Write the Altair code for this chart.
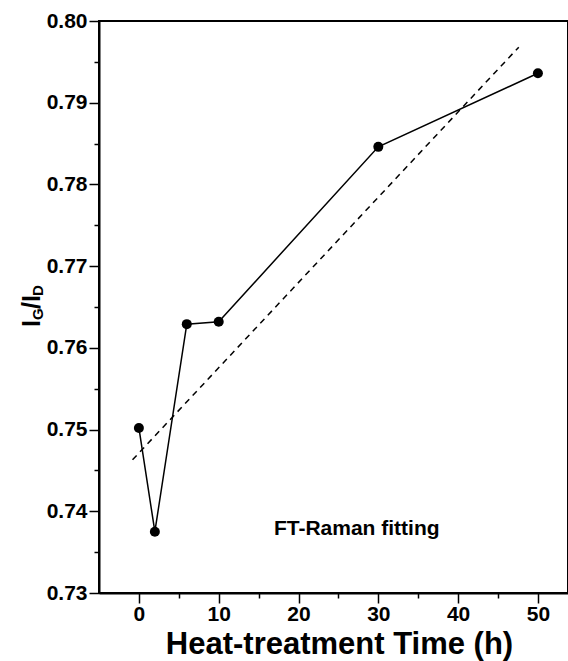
import altair as alt
import pandas as pd

# data
hours = [0, 2, 6, 10, 30, 50]
ratio = [0.7502, 0.7375, 0.7629, 0.7632, 0.7846, 0.7936]
fit_hours = [-0.8, 47.6]
fit_ratio = [0.7463, 0.7968]
x_major = [0, 10, 20, 30, 40, 50]
x_minor = [5, 15, 25, 35, 45]
y_major = [0.73, 0.74, 0.75, 0.76, 0.77, 0.78, 0.79, 0.80]
y_minor = [0.735, 0.745, 0.755, 0.765, 0.775, 0.785, 0.795]
note_text = "FT-Raman fitting"
note_x = [27.3]
note_y = [0.7371]

FONT = "Liberation Sans"
W, H = 469, 572
xdom = [-5, 53.77]
ydom = [0.73, 0.80]

pts = pd.DataFrame({"x": hours, "y": ratio})
fit = pd.DataFrame({"x": fit_hours, "y": fit_ratio})
note = pd.DataFrame({"x": note_x, "y": note_y, "t": [note_text]})
one = pd.DataFrame({"a": [0]})

xs = alt.Scale(domain=xdom, nice=False, zero=False)
ys = alt.Scale(domain=ydom, nice=False, zero=False)

x_tick_size = {"condition": {"test": "datum.value % 10 == 0", "value": 10}, "value": 5}
y_tick_size = {"condition": {"test": "round(datum.value*1000) % 10 == 0", "value": 10}, "value": 5}

lbl = dict(labelFont=FONT, labelFontWeight="bold", labelFontSize=21,
           labelColor="black", domainColor="black", domainWidth=2,
           grid=False, labelFlush=False, tickColor="black", tickWidth=1.5)

line = alt.Chart(pts).mark_line(color="black", strokeWidth=1.5).encode(
    x=alt.X("x:Q", scale=xs, axis=alt.Axis(
        orient="bottom", values=x_major + x_minor, tickSize=x_tick_size,
        labelExpr="datum.value % 10 == 0 ? datum.label : ''",
        labelPadding=0,
        title="Heat-treatment Time (h)", titleFont=FONT, titleFontWeight="bold",
        titleFontSize=31, titleColor="black", titleBaseline="alphabetic",
        titleY=60, titleX=240, titleAnchor="start", titleAlign="center",
        **lbl)),
    y=alt.Y("y:Q", scale=ys, axis=alt.Axis(
        orient="left", values=y_major + y_minor, tickSize=y_tick_size,
        format=".2f",
        labelExpr="round(datum.value*1000) % 10 == 0 ? datum.label : ''",
        labelPadding=2, title=None, **lbl)),
)

points = alt.Chart(pts).mark_circle(color="black", size=100, opacity=1).encode(
    x=alt.X("x:Q", scale=xs), y=alt.Y("y:Q", scale=ys))

fitline = alt.Chart(fit).mark_line(color="black", strokeWidth=1.5,
                                   strokeDash=[6, 5]).encode(
    x=alt.X("x:Q", scale=xs), y=alt.Y("y:Q", scale=ys))

label = alt.Chart(note).mark_text(font=FONT, fontWeight="bold", fontSize=21,
                                  align="center", baseline="alphabetic",
                                  color="black").encode(
    x=alt.X("x:Q", scale=xs), y=alt.Y("y:Q", scale=ys), text="t:N")


def seg(txt, size, xpx, ypx):
    return alt.Chart(one).mark_text(text=txt, font=FONT, fontWeight="bold",
                                    fontSize=size, angle=270, align="left",
                                    baseline="alphabetic", color="black").encode(
        x=alt.value(xpx), y=alt.value(ypx))


ytitle = [
    seg("I", 25, -59, 306),
    seg("G", 15, -56, 299),
    seg("/I", 25, -59, 288),
    seg("D", 15, -56, 275),
]

chart = alt.layer(line, points, fitline, label, *ytitle).properties(
    width=W, height=H,
    autosize=alt.AutoSizeParams(type="none"),
    padding={"left": 99, "top": 21, "right": 0, "bottom": 68},
    background="white",
).configure_view(stroke="black", strokeWidth=2)

chart.save("out.html", embed_options={"renderer": "svg", "actions": False})
